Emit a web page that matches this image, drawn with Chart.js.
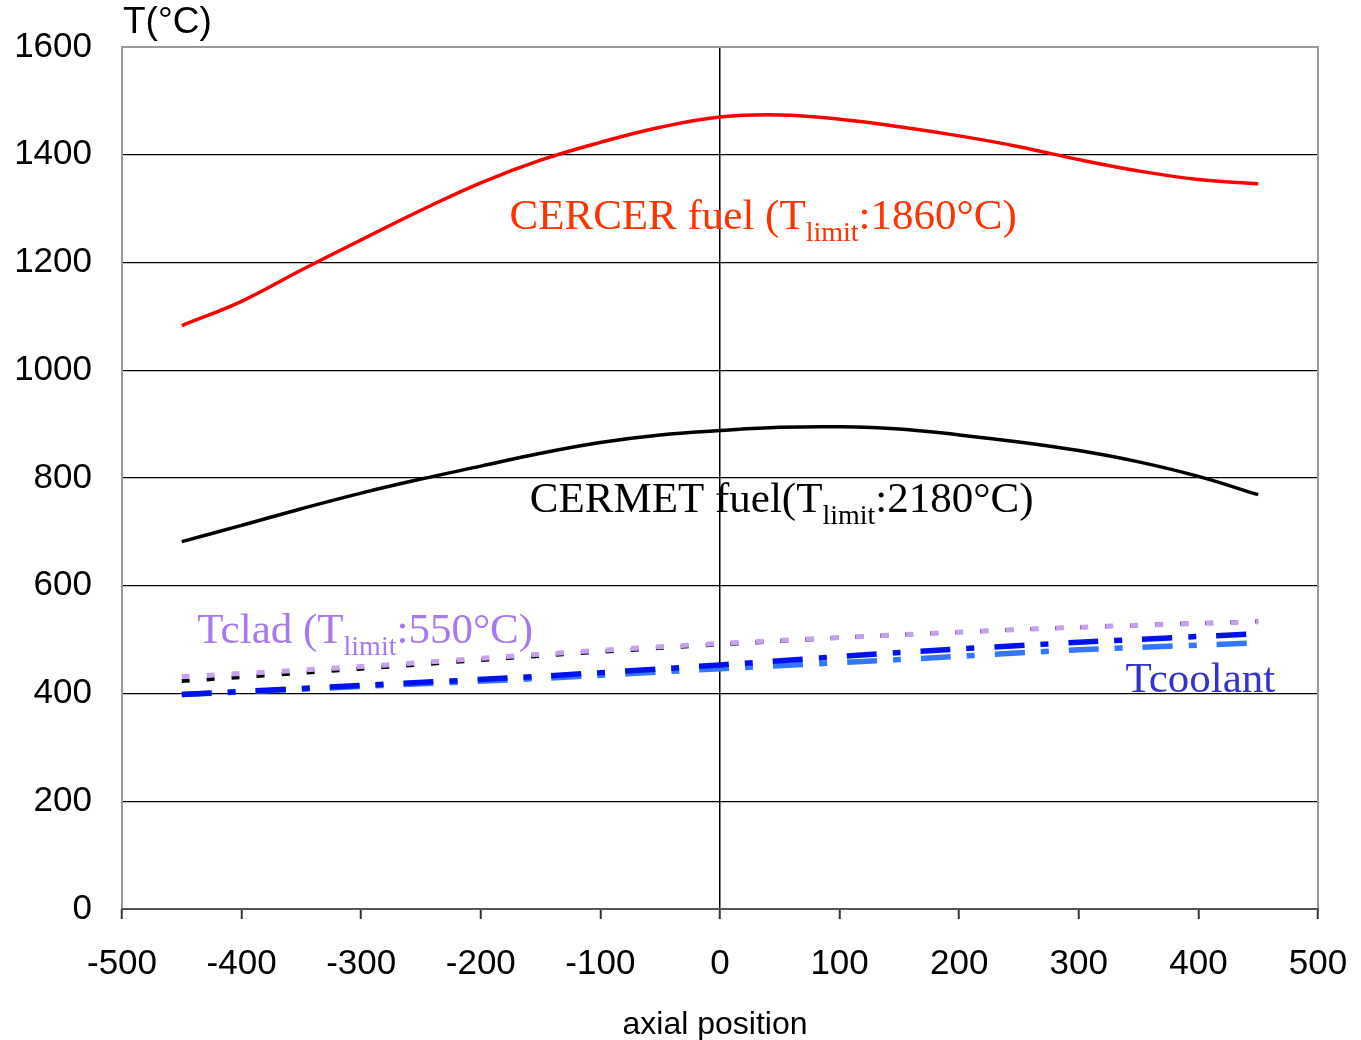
<!DOCTYPE html>
<html>
<head>
<meta charset="utf-8">
<script src="https://cdn.jsdelivr.net/npm/chart.js@4.4.1/dist/chart.umd.min.js"></script>
<style>
html,body{margin:0;padding:0;background:#fff;}
#wrap{width:1361px;height:1040px;position:relative;}
</style>
</head>
<body>
<div id="wrap"><canvas id="c" width="1361" height="1040"></canvas></div>
<script>
// ---- data ----
const axialPos = [-450,-400,-350,-300,-250,-200,-150,-100,-50,0,50,100,150,200,250,300,350,400,450];
const cercerFuel = [1083,1128,1186,1242,1297,1348,1390,1423,1451,1470,1474,1466,1452,1435,1415,1391,1370,1354,1346];
const cermetFuel = [682,712,743,772,798,822,846,866,880,888,894,895,891,880,867,851,830,803,769];
const lowerPos = [-450,-300,-150,0,150,300,450];
const tClad = [431,450,473,493,509,523,533];
const tCladCermet = [423,446,470,491,509,523,534];
const tCoolantA = [398,415,432,453,476,495,511];
const tCoolantB = [398,413,428,446,463,481,494];
const xTicks = [-500,-400,-300,-200,-100,0,100,200,300,400,500];
const yTicks = [0,200,400,600,800,1000,1200,1400,1600];

const pts = (xs, ys) => xs.map((x, i) => ({x: x, y: ys[i]}));

const SANS = "'Liberation Sans', Arial, sans-serif";
const SERIF = "'Liberation Serif', 'Times New Roman', serif";

const labels = [
  {x:-176, y:1262, main:'CERCER fuel (T', sub:'limit', tail:':1860°C)', color:'#ff3300'},
  {x:-159, y:737, main:'CERMET fuel(T', sub:'limit', tail:':2180°C)', color:'#000000'},
  {x:-437, y:494, main:'Tclad (T', sub:'limit', tail:':550°C)', color:'#a878f0'},
  {x:339, y:403, main:'Tcoolant', sub:'', tail:'', color:'#3333cc'}
];

const decor = {
  id:'decor',
  afterDatasetsDraw(chart){
    const {ctx, chartArea:a, scales} = chart;
    ctx.save();
    // frame
    ctx.lineWidth = 2;
    ctx.strokeStyle = '#999999';
    ctx.beginPath();
    ctx.moveTo(a.left, a.bottom); ctx.lineTo(a.left, a.top); ctx.lineTo(a.right, a.top); ctx.lineTo(a.right, a.bottom);
    ctx.stroke();
    ctx.strokeStyle = '#555555';
    ctx.beginPath();
    ctx.moveTo(a.left-1, a.bottom); ctx.lineTo(a.right+1, a.bottom);
    ctx.stroke();
    // annotations
    ctx.textBaseline = 'alphabetic';
    ctx.textAlign = 'left';
    for (const l of labels) {
      let px = scales.x.getPixelForValue(l.x);
      const py = scales.y.getPixelForValue(l.y);
      ctx.fillStyle = l.color;
      ctx.font = '43px ' + SERIF;
      ctx.fillText(l.main, px, py);
      px += ctx.measureText(l.main).width;
      if (l.sub) {
        ctx.font = '28px ' + SERIF;
        ctx.fillText(l.sub, px, py + 12);
        px += ctx.measureText(l.sub).width;
      }
      if (l.tail) {
        ctx.font = '43px ' + SERIF;
        ctx.fillText(l.tail, px, py);
      }
    }
    // axis titles
    ctx.fillStyle = '#000';
    ctx.font = '37px ' + SANS;
    ctx.textBaseline = 'middle';
    ctx.fillText('T(°C)', 123, 23);
    ctx.font = '32px ' + SANS;
    ctx.textAlign = 'center';
    ctx.fillText('axial position', 715, 1025);
    ctx.restore();
  }
};

const noPad = s => { s.paddingLeft = 0; s.paddingRight = 0; s.paddingTop = 0; s.paddingBottom = 0; };

new Chart(document.getElementById('c'), {
  type: 'line',
  data: {
    datasets: [
      {label:'CERCER fuel', data: pts(axialPos, cercerFuel), borderColor:'#ff0000', borderWidth:3.5, pointRadius:0, tension:0.4, fill:false},
      {label:'CERMET fuel', data: pts(axialPos, cermetFuel), borderColor:'#000000', borderWidth:3.5, pointRadius:0, tension:0.4, fill:false},
      {label:'Tclad', data: pts(lowerPos, tClad), borderColor:'#c8a0f0', borderWidth:5, borderDash:[8,17], pointRadius:0, tension:0.3, fill:false},
      {label:'Tclad CERMET', data: pts(lowerPos, tCladCermet), borderColor:'#000000', borderWidth:4, borderDash:[8,17], pointRadius:0, tension:0.3, fill:false},
      {label:'Tcoolant A', data: pts(lowerPos, tCoolantA), borderColor:'#0011ee', borderWidth:5.5, borderDash:[30,16,8,20], pointRadius:0, tension:0.3, fill:false},
      {label:'Tcoolant B', data: pts(lowerPos, tCoolantB), borderColor:'#3377ff', borderWidth:5.5, borderDash:[30,16,8,20], pointRadius:0, tension:0.3, fill:false}
    ]
  },
  plugins: [decor],
  options: {
    responsive: false,
    animation: false,
    devicePixelRatio: 1,
    layout: {padding: {left:0, right:43, top:47, bottom:0}},
    plugins: {legend:{display:false}, tooltip:{enabled:false}},
    scales: {
      x: {
        type:'linear', min:-500, max:500,
        afterBuildTicks: s => { s.ticks = xTicks.map(v => ({value:v})); },
        afterFit: s => { s.height = 131; noPad(s); },
        border: {display:false},
        grid: {
          color: c => (c.tick && c.tick.value === 0) ? '#000000' : 'rgba(0,0,0,0)',
          lineWidth: 1.5,
          tickColor: '#333333',
          tickLength: 10,
          tickWidth: 2,
          drawTicks: true
        },
        ticks: {color:'#000', font:{family:SANS, size:35}, padding:24, maxRotation:0, autoSkip:false,
                callback: v => String(v)}
      },
      y: {
        type:'linear', min:0, max:1600,
        afterBuildTicks: s => { s.ticks = yTicks.map(v => ({value:v})); },
        afterFit: s => { s.width = 122; noPad(s); },
        border: {display:false},
        grid: {color:'#000000', lineWidth:1.2, drawTicks:false},
        ticks: {color:'#000', font:{family:SANS, size:35}, padding:30, callback: v => String(v)}
      }
    }
  }
});
</script>
</body>
</html>
